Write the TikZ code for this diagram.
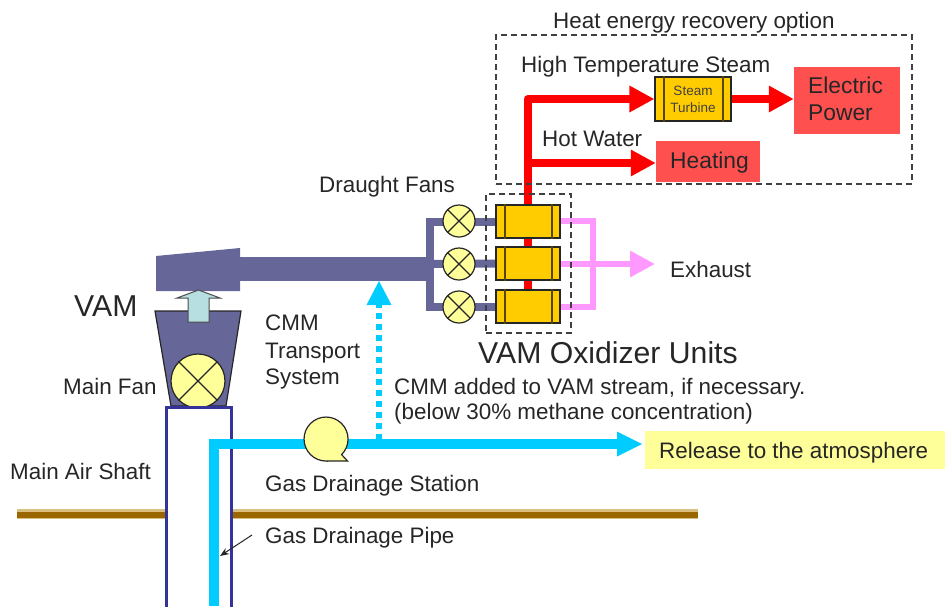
\documentclass[tikz,border=0pt]{standalone}
\usepackage{fontspec}
\setmainfont{Liberation Sans}
\usetikzlibrary{arrows.meta,backgrounds}
\definecolor{ductc}{HTML}{666699}
\definecolor{redc}{HTML}{FF0000}
\definecolor{pinkc}{HTML}{FF99FF}
\definecolor{bluec}{HTML}{00CCFF}
\definecolor{fanc}{HTML}{FFFF99}
\definecolor{unitc}{HTML}{FFCC00}
\definecolor{boxred}{HTML}{FF5050}
\definecolor{shaftc}{HTML}{333399}
\definecolor{groundc}{HTML}{996600}
\definecolor{groundl}{HTML}{D9BF80}
\definecolor{upc}{HTML}{B7DEE0}
\tikzset{
  lbl/.style={anchor=base west,inner sep=0pt,font=\fontsize{22.4}{26}\selectfont,text=black!85},
  biglbl/.style={lbl,font=\fontsize{30.2}{34}\selectfont},
  hotlbl/.style={lbl,font=\fontsize{22.8}{28}\selectfont},
  unitbox/.style={draw=black!85,line width=1.2pt,fill=unitc,minimum width=64pt,minimum height=33pt,inner sep=0pt},
  turbbox/.style={unitbox,minimum width=76pt,minimum height=44pt},
  fan/.style={circle,draw=black!85,line width=1.2pt,fill=fanc,minimum size=32pt,inner sep=0pt},
  hotbox/.style={fill=boxred,inner sep=0pt},
  dashbox/.style={draw=black!75,line width=1.2pt,dash pattern=on 6pt off 4pt,inner sep=0pt},
  redpipe/.style={draw=redc,line width=8pt},
  redarrow/.style={redpipe,-{Triangle[length=25pt,width=25pt]}},
  pinkpipe/.style={draw=pinkc,line width=6pt},
  bluepipe/.style={draw=bluec,line width=9.5pt},
  ductpipe/.style={draw=ductc,line width=8pt},
}
\newcommand{\crossfan}[1]{\draw[black!85,line width=1.2pt] (#1.north west)--(#1.south east) (#1.north east)--(#1.south west);}
\newcommand{\unitbars}[1]{\draw[black!65!unitc,line width=2pt] ([xshift=10pt]#1.north west)--([xshift=10pt]#1.south west) ([xshift=-9pt]#1.north east)--([xshift=-9pt]#1.south east);}
\begin{document}
\begin{tikzpicture}[x=1pt,y=-1pt]
\useasboundingbox (0,0) rectangle (945,606);
% boxes and machines
\node[hotbox,minimum width=106pt,minimum height=67pt] (elec) at (847,100.5) {};
\node[hotbox,minimum width=104pt,minimum height=41pt] (heat) at (708,161.5) {};
\node[turbbox] (turb) at (693,99) {};
\unitbars{turb}
\node[font=\fontsize{13.5}{17}\selectfont,align=center,text=black!75,inner sep=0pt] (turbtxt) at (693,99.5) {Steam\\Turbine};
\foreach \n/\y in {u1/221.5,u2/263.5,u3/306.5}{
  \node[unitbox] (\n) at (528,\y) {};
  \unitbars{\n}
}
\foreach \n/\y in {fa/221,fb/264,fc/307}{
  \node[fan] (\n) at (459,\y) {};
  \crossfan{\n}
}
\node[dashbox,minimum width=416pt,minimum height=149pt] (opt) at (704,109.5) {};
\node[dashbox,minimum width=85pt,minimum height=139pt] (oxbox) at (528.5,263.5) {};
% named positions
\coordinate (rtop) at (527.5,99);
\coordinate (rhot) at (527.5,163);
\coordinate (heatin) at (heat.west |- rhot);
\coordinate (mix) at (593,264);
\coordinate (exh) at (655,264);
\coordinate (pu) at (593,221);
\coordinate (pd) at (593,307);
\coordinate (dt) at (430,221);
\coordinate (db) at (430,307);
\coordinate (bcorner) at (214,444);
\coordinate (bbot) at (214,606);
\coordinate (bend) at (642,444);
\coordinate (bneck) at (618,444);
\coordinate (dotbot) at (379,440);
\coordinate (dottop) at (379,281);
\coordinate (dotneck) at (379,305);
\coordinate (ptr) at (252,535);
\coordinate (ptrend) at (220,556);
\begin{pgfonlayer}{background}
  % ground
  \foreach \a/\b in {17/166,231/698}{
    \fill[groundl] (\a,508.5) rectangle (\b,518.5);
    \fill[groundc] (\a,511.5) rectangle (\b,517.5);
  }
  % red
  \draw[redarrow,line join=round] (u3.north -| rtop) -- (rtop) -- (turb.west |- rtop);
  \draw[redarrow] (rhot) -- (heatin);
  \draw[redarrow] (turb.east) -- (turb.east -| elec.west);
  % duct
  \fill[ductc] (156,256) -- (240,248) -- (240,291) -- (156,291) -- cycle;
  \fill[ductc] (240,257) rectangle (430,281);
  \draw[ductpipe] (u1.west) -- (dt |- u1) -- (db |- u3) -- (u3.west);
  \draw[ductpipe] (426,264) -- (u2.west);
  % pink
  \draw[pinkpipe] (u1.east |- pu) -- (pu) -- (pd) -- (u3.east |- pd);
  \draw[pinkpipe,-{Triangle[length=25pt,width=25pt]}] (u2.east |- mix) -- (exh);
\end{pgfonlayer}
% hopper, main fan
\draw[draw=black!85,line width=1.2pt,fill=ductc] (155,311) -- (241,311) -- (226,406) -- (171,406) -- cycle;
\node[fan,minimum size=54pt] (mf) at (198,381) {};
\crossfan{mf}
% up arrow
\draw[black!70,line width=1pt,fill=upc] (188,322) -- (188,298) -- (177,298) -- (198.5,290) -- (220,298) -- (209,298) -- (209,322) -- cycle;
% shaft
\draw[shaftc,line width=3pt] (166,610) -- (166,407) -- (231,407) -- (231,610);
% blue
\draw[draw=bluec,line width=6.5pt,dash pattern=on 6pt off 5pt] (dotbot) -- (dotneck);
\fill[bluec] (dottop) -- ++(-12.5,24) -- ++(25,0) -- cycle;
\draw[bluepipe] (bbot) -- (bcorner) -- (bneck);
\fill[bluec] (bend) -- ++(-25,-12.5) -- ++(0,25) -- cycle;
% blower
\draw[black!85,line width=1.2pt,fill=fanc] (326,461) -- (347.5,461) -- (341.6,454.6) arc[start angle=45,delta angle=-315,radius=22] -- cycle;
% labels
\node[lbl] (t1) at (553,28.5) {Heat energy recovery option};
\node[lbl] (t2) at (521,72) {High Temperature Steam};
\node[lbl] (t3) at (542,146) {Hot Water};
\node[lbl] (t4) at (319,192) {Draught Fans};
\node[lbl] (t5) at (670,277) {Exhaust};
\node[biglbl] (t6) at (74,316) {VAM};
\node[biglbl] (t7) at (478,363) {VAM Oxidizer Units};
\node[lbl] (t8) at (265,330) {CMM};
\node[lbl] (t9) at (265,358) {Transport};
\node[lbl] (t10) at (265,384) {System};
\node[lbl] (t11) at (63,394) {Main Fan};
\node[lbl] (t12) at (10,479) {Main Air Shaft};
\node[lbl] (t13) at (265,491) {Gas Drainage Station};
\node[lbl] (t14) at (265,543) {Gas Drainage Pipe};
\node[lbl] (t15) at (394,394) {CMM added to VAM stream, if necessary.};
\node[lbl] (t16) at (394,419) {(below 30\% methane concentration)};
\node[hotlbl] (t17) at (808,93.5) {Electric};
\node[hotlbl] (t18) at (808,120) {Power};
\node[hotlbl] (t19) at (670,168) {Heating};
\node[fill=fanc,minimum width=300pt,minimum height=38pt,inner sep=0pt] (rel) at (795,450) {};
\node[lbl] (t20) at (659,458) {Release to the atmosphere};
\draw[black!85,line width=1pt,-{Stealth[length=9pt,width=7pt]}] (ptr) -- (ptrend);
\end{tikzpicture}
\end{document}
